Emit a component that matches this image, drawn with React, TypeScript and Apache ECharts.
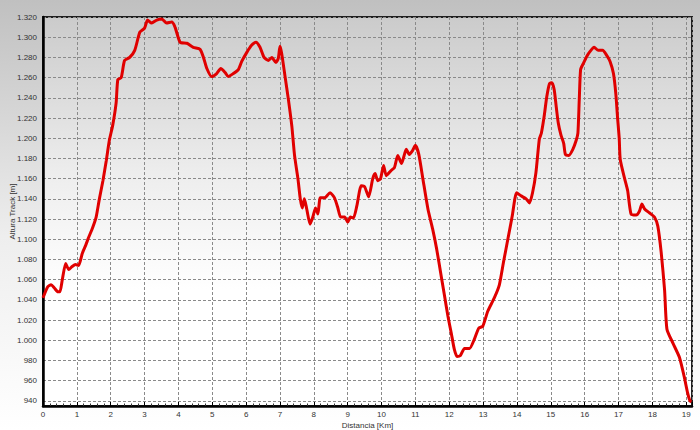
import React, { useEffect, useRef } from "react";
import * as echarts from "echarts";

const distanceKm = [
  0, 0.14, 0.24, 0.33, 0.44, 0.5, 0.57, 0.67, 0.76, 0.86, 0.96, 1.05, 1.16, 1.26, 1.35, 1.46, 1.57, 1.66, 1.77, 1.87,
  1.96, 2.06, 2.16, 2.21, 2.31, 2.41, 2.56, 2.71, 2.86, 3.0, 3.09, 3.21, 3.36, 3.51, 3.65, 3.8, 3.9, 4.05, 4.25, 4.44,
  4.64, 4.74, 4.84, 4.98, 5.13, 5.25, 5.38, 5.47, 5.62, 5.77, 5.87, 6.02, 6.16, 6.29, 6.41, 6.53, 6.66, 6.76, 6.88, 6.95,
  7.0, 7.05, 7.15, 7.25, 7.35, 7.43, 7.53, 7.6, 7.66, 7.72, 7.79, 7.89, 7.97, 8.05, 8.12, 8.19, 8.31, 8.48, 8.61, 8.71,
  8.79, 8.91, 9.0, 9.08, 9.17, 9.27, 9.4, 9.5, 9.62, 9.74, 9.81, 9.89, 9.97, 10.06, 10.14, 10.28, 10.38, 10.48, 10.59, 10.73,
  10.82, 10.92, 11.0, 11.1, 11.22, 11.37, 11.51, 11.63, 11.76, 11.86, 11.96, 12.06, 12.15, 12.23, 12.33, 12.45, 12.6, 12.74, 12.87, 12.99,
  13.14, 13.33, 13.48, 13.6, 13.73, 13.86, 13.99, 14.12, 14.27, 14.37, 14.46, 14.56, 14.66, 14.72, 14.8, 14.88, 14.96, 15.03, 15.1, 15.16,
  15.22, 15.3, 15.38, 15.43, 15.53, 15.65, 15.75, 15.8, 15.84, 15.88, 15.96, 16.06, 16.16, 16.28, 16.4, 16.53, 16.65, 16.75, 16.85, 16.92,
  16.97, 17.02, 17.05, 17.18, 17.27, 17.37, 17.52, 17.62, 17.69, 17.77, 17.92, 18.06, 18.16, 18.26, 18.36, 18.43, 18.61, 18.8, 18.94, 19.04,
  19.11, 19.15,
];

const altitudeM = [
  1042, 1053, 1055, 1052, 1048, 1048, 1060, 1076, 1070, 1073, 1075, 1074, 1086, 1094, 1102, 1111, 1122, 1139, 1158, 1178,
  1198, 1213, 1235, 1258, 1260, 1277, 1280, 1287, 1305, 1309, 1317, 1314, 1317, 1318, 1314, 1315, 1310, 1295, 1294, 1290,
  1288, 1280, 1269, 1261, 1264, 1269, 1265, 1261, 1264, 1268, 1276, 1285, 1292, 1295, 1290, 1280, 1277, 1280, 1275, 1279,
  1291, 1284, 1261, 1238, 1212, 1183, 1160, 1140, 1131, 1140, 1130, 1115, 1122, 1131, 1125, 1141, 1141, 1146, 1141, 1131,
  1122, 1122, 1117, 1122, 1121, 1133, 1153, 1152, 1142, 1160, 1165, 1158, 1160, 1173, 1163, 1168, 1171, 1183, 1175, 1189,
  1184, 1188, 1193, 1184, 1160, 1130, 1110, 1090, 1064, 1044, 1024, 1007, 991, 984, 985, 992, 992, 1001, 1012, 1014,
  1029, 1042, 1055, 1077, 1100, 1123, 1146, 1143, 1140, 1136, 1146, 1166, 1199, 1205, 1221, 1241, 1254, 1255, 1248, 1231,
  1215, 1203, 1195, 1184, 1183, 1189, 1198, 1205, 1238, 1268, 1274, 1281, 1286, 1290, 1287, 1287, 1282, 1276, 1264, 1244,
  1221, 1200, 1179, 1160, 1148, 1125, 1124, 1128, 1135, 1130, 1126, 1122, 1113, 1087, 1050, 1011, 997, 983, 964, 948,
  940, 939,
];

const yTickValues = [
  940, 960, 980, 1000, 1020, 1040, 1060, 1080, 1100, 1120, 1140, 1160, 1180, 1200, 1220, 1240, 1260, 1280, 1300, 1320,
];

const xAxisTitle = "Distancia [Km]";
const yAxisTitle = "Altura Track [m]";

function fmtAlt(v: number): string {
  if (v >= 1000) {
    const th = Math.floor(v / 1000);
    const rest = String(Math.round(v % 1000)).padStart(3, "0");
    return th + "." + rest;
  }
  return String(v);
}

export default function App() {
  const ref = useRef<HTMLDivElement>(null);
  useEffect(() => {
    if (!ref.current) return;
    const chart = echarts.init(ref.current, undefined, { renderer: "svg" });
    const data = distanceKm.map((d, i) => [d, altitudeM[i]]);
    const font = "Liberation Sans, Arial, sans-serif";
    chart.setOption({
      animation: false,
      backgroundColor: {
        type: "linear",
        x: 0,
        y: 0,
        x2: 0,
        y2: 1,
        colorStops: [
          { offset: 0, color: "#c0c0c0" },
          { offset: 0.55, color: "#eeeeee" },
          { offset: 1, color: "#ffffff" },
        ],
      },
      grid: {
        left: 43,
        right: 8,
        top: 17,
        bottom: 24,
        containLabel: false,
        outerBoundsMode: "none",
        show: true,
        borderColor: "#1e1e1e",
        borderWidth: 2,
        backgroundColor: {
          type: "linear",
          x: 0,
          y: 0,
          x2: 0,
          y2: 1,
          colorStops: [
            { offset: 0, color: "#cbcbcb" },
            { offset: 0.4, color: "#ededed" },
            { offset: 0.7, color: "#ffffff" },
            { offset: 1, color: "#ffffff" },
          ],
        },
      },
      xAxis: {
        type: "value",
        min: 0,
        max: 19.17,
        interval: 1,
        name: xAxisTitle,
        nameLocation: "middle",
        nameGap: 19,
        nameMoveOverlap: false,
        nameTextStyle: { fontFamily: font, fontSize: 8, color: "#333", verticalAlign: "middle" },
        axisLine: { show: true, onZero: false, lineStyle: { color: "#000", width: 2.5 } },
        axisTick: { show: true, inside: true, length: 4, lineStyle: { color: "#000" } },
        minorTick: { show: true, splitNumber: 5, length: 2.5, lineStyle: { color: "#333" } },
        axisLabel: {
          fontFamily: font,
          fontSize: 8,
          color: "#333",
          margin: 4,
          showMaxLabel: false,
          formatter: (v: number) => String(v),
        },
        splitLine: { show: true, lineStyle: { color: "#8a8a8a", type: [3, 2], width: 1 } },
      },
      yAxis: {
        type: "value",
        min: 935,
        max: 1320,
        name: yAxisTitle,
        nameLocation: "middle",
        nameGap: 31,
        nameMoveOverlap: false,
        nameTextStyle: { fontFamily: font, fontSize: 8, color: "#333", verticalAlign: "middle" },
        axisLine: { show: true, lineStyle: { color: "#000", width: 2.5 } },
        axisTick: { show: false, customValues: yTickValues },
        axisLabel: {
          fontFamily: font,
          fontSize: 8,
          color: "#333",
          margin: 6,
          customValues: yTickValues,
          formatter: (v: number) => fmtAlt(v),
        },
        splitLine: { show: true, lineStyle: { color: "#8a8a8a", type: [3, 2], width: 1 } },
      },
      series: [
        {
          type: "line",
          data,
          showSymbol: false,
          smooth: 0.2,
          lineStyle: { color: "#e00000", width: 3 },
          clip: true,
        },
      ],
    });
    return () => chart.dispose();
  }, []);
  return (
    <div
      ref={ref}
      style={{ position: "absolute", left: 0, top: 0, width: 700, height: 430 }}
    />
  );
}
